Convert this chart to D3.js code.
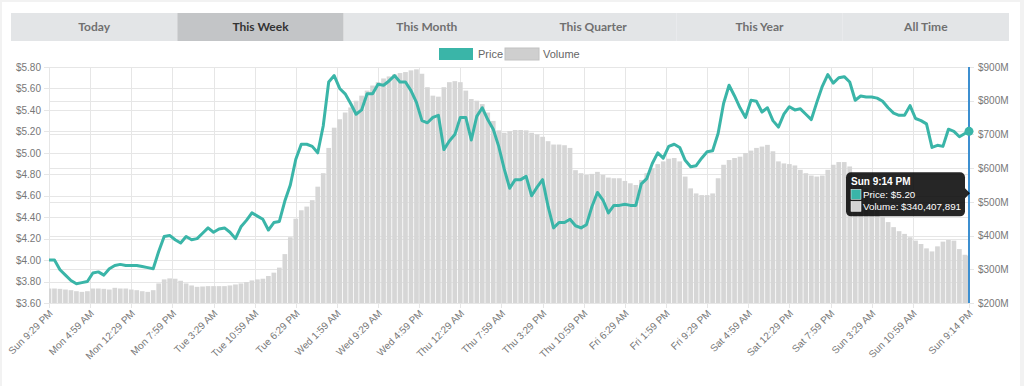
<!DOCTYPE html>
<html>
<head>
<meta charset="utf-8">
<script src="https://cdnjs.cloudflare.com/ajax/libs/d3/7.8.5/d3.min.js"></script>
<style>
  body { margin: 0; background: #f2f2f2; }
  #line { width: 1024px; height: 386px; }
  .tab { font-family: Lato, "Open Sans", sans-serif; font-size: 12px; font-weight: bold; }
  .axis text { font-family: "Liberation Sans", Arial, sans-serif; font-size: 10px; fill: #777; }
  .axis path { display: none; }
  .tip text { font-family: "Liberation Sans", Arial, sans-serif; fill: #fff; }
</style>
</head>
<body>
<div id="line"></div>
<script>
// data: hourly readings from Sun 9:29 PM, plus the last one at Sun 9:14 PM
var tabs = ["Today", "This Week", "This Month", "This Quarter", "This Year", "All Time"];
var activeTab = "This Week";

var tickLabels = ["Sun 9:29 PM", "Mon 4:59 AM", "Mon 12:29 PM", "Mon 7:59 PM", "Tue 3:29 AM",
  "Tue 10:59 AM", "Tue 6:29 PM", "Wed 1:59 AM", "Wed 9:29 AM", "Wed 4:59 PM", "Thu 12:29 AM",
  "Thu 7:59 AM", "Thu 3:29 PM", "Thu 10:59 PM", "Fri 6:29 AM", "Fri 1:59 PM", "Fri 9:29 PM",
  "Sat 4:59 AM", "Sat 12:29 PM", "Sat 7:59 PM", "Sun 3:29 AM", "Sun 10:59 AM", "Sun 9:14 PM"];

var priceTicks = [3.6, 3.8, 4.0, 4.2, 4.4, 4.6, 4.8, 5.0, 5.2, 5.4, 5.6, 5.8];
var volumeTicks = [200, 300, 400, 500, 600, 700, 800, 900];

// price in $
var price = [
  4.00, 4.00, 3.91, 3.86, 3.81, 3.78, 3.79, 3.80, 3.88, 3.89,
  3.86, 3.92, 3.95, 3.96, 3.95, 3.95, 3.95, 3.94, 3.93, 3.92,
  4.08, 4.22, 4.23, 4.19, 4.16, 4.22, 4.19, 4.20, 4.25, 4.30,
  4.26, 4.29, 4.30, 4.26, 4.20, 4.31, 4.37, 4.44, 4.41, 4.38,
  4.28, 4.35, 4.36, 4.55, 4.70, 4.94, 5.08, 5.08, 5.06, 5.00,
  5.25, 5.66, 5.72, 5.60, 5.55, 5.46, 5.36, 5.40, 5.55, 5.55,
  5.64, 5.63, 5.67, 5.72, 5.66, 5.66, 5.58, 5.47, 5.30, 5.28,
  5.33, 5.35, 5.03, 5.11, 5.17, 5.33, 5.33, 5.12, 5.34, 5.42,
  5.31, 5.22, 5.06, 4.85, 4.67, 4.75, 4.75, 4.78, 4.60, 4.68,
  4.75, 4.50, 4.30, 4.35, 4.35, 4.38, 4.32, 4.30, 4.33, 4.50,
  4.63, 4.56, 4.44, 4.51, 4.51, 4.52, 4.51, 4.51, 4.71, 4.76,
  4.90, 5.00, 4.95, 5.06, 5.08, 5.05, 4.93, 4.87, 4.88, 4.95,
  5.01, 5.02, 5.18, 5.46, 5.63, 5.53, 5.42, 5.33, 5.49, 5.48,
  5.38, 5.42, 5.30, 5.24, 5.36, 5.43, 5.40, 5.41, 5.36, 5.31,
  5.47, 5.62, 5.73, 5.65, 5.70, 5.71, 5.66, 5.49, 5.53, 5.52,
  5.52, 5.51, 5.48, 5.42, 5.37, 5.35, 5.35, 5.44, 5.32, 5.30,
  5.27, 5.05, 5.07, 5.06, 5.22, 5.20, 5.15, 5.18,
  5.20
];

// volume in $ millions
var volume = [
  243, 243, 242, 240, 238, 235, 233, 235, 243, 243,
  242, 240, 245, 243, 243, 240, 238, 235, 233, 238,
  258, 270, 273, 272, 266, 258, 252, 248, 249, 250,
  250, 250, 250, 252, 255, 258, 262, 267, 270, 272,
  280, 290, 305, 345, 395, 450, 475, 486, 505, 545,
  585, 660, 720, 745, 765, 780, 800, 815, 830, 845,
  855, 866, 872, 878, 882, 885, 890, 893, 880, 840,
  815, 812, 840, 855, 858, 855, 830, 805, 800, 790,
  765, 740, 712, 705, 710, 713, 713, 712, 705, 700,
  693, 680, 670, 670, 668, 660, 594, 585, 580, 583,
  589, 580, 572, 570, 570, 562, 555, 550, 565, 585,
  600, 612, 620, 628, 630, 620, 575, 540, 525, 520,
  520, 525, 570, 610, 624, 630, 634, 645, 652, 660,
  664, 669, 650, 620, 614, 612, 608, 595, 585, 578,
  575, 578, 595, 610, 618, 618, 605, 580, 560, 540,
  510, 480, 455, 440, 425, 413, 405, 395, 385, 375,
  362, 353, 368, 382, 387, 385, 360, 343,
  340.407891
];

var startTime = new Date(2018, 0, 7, 21, 29);
var endTime = new Date(2018, 0, 14, 21, 14);

var data = price.map(function(p, i) {
  return {
    date: i < price.length - 1 ? d3.timeHour.offset(startTime, i) : endTime,
    price: p,
    volume: volume[i]
  };
});
var last = data[data.length - 1];

// set the dimensions and margins of the graph
var margin = {top: 67, right: 55, bottom: 83, left: 49},
    width = 1024 - margin.left - margin.right,
    height = 386 - margin.top - margin.bottom;

var svg = d3.select("#line").append("svg")
  .attr("width", 1024)
  .attr("height", 386);

// page card
svg.append("rect")
  .attr("x", 2).attr("y", 2).attr("width", 1018).attr("height", 390)
  .attr("fill", "#fff");

// tab bar
var tabWidth = 998 / tabs.length;
var tabG = svg.append("g").attr("transform", "translate(11,13)");
tabG.selectAll("rect").data(tabs).enter().append("rect")
  .attr("x", (d, i) => i * tabWidth)
  .attr("width", tabWidth)
  .attr("height", 28)
  .attr("fill", d => d === activeTab ? "#c3c5c7" : "#e3e5e7");
tabG.selectAll("text").data(tabs).enter().append("text")
  .classed("tab", true)
  .attr("x", (d, i) => i * tabWidth + tabWidth / 2)
  .attr("y", 18)
  .attr("text-anchor", "middle")
  .attr("fill", d => d === activeTab ? "#333" : "#707070")
  .text(d => d);

// legend
var legend = svg.append("g").attr("transform", "translate(439,48)");
legend.append("rect").attr("width", 34).attr("height", 12).attr("fill", "#3ab5a8");
legend.append("text").attr("x", 39).attr("y", 10)
  .attr("font-family", "Liberation Sans, Arial, sans-serif").attr("font-size", 11).attr("fill", "#666")
  .text("Price");
legend.append("rect").attr("x", 66).attr("width", 34).attr("height", 12)
  .attr("fill", "#cfcfcf").attr("stroke", "#c2c2c2");
legend.append("text").attr("x", 104).attr("y", 10)
  .attr("font-family", "Liberation Sans, Arial, sans-serif").attr("font-size", 11).attr("fill", "#666")
  .text("Volume");

var chartGroup = svg.append("g")
  .attr("transform", `translate(${margin.left}, ${margin.top})`);

// scales
var xTimeScale = d3.scaleTime().domain([startTime, endTime]).range([0, width]);
var yPrice = d3.scaleLinear().domain([3.6, 5.8]).range([height, 0]);
var yVolume = d3.scaleLinear().domain([200, 900]).range([height, 0]);

var tickDates = tickLabels.map((l, k) =>
  k < tickLabels.length - 1 ? d3.timeMinute.offset(startTime, k * 450) : endTime);

// grid lines
var grid = chartGroup.append("g").attr("stroke", "#e6e6e6").attr("stroke-width", 1);
grid.selectAll(".gx").data(tickDates).enter().append("line")
  .attr("x1", d => Math.round(xTimeScale(d)) + 0.5).attr("x2", d => Math.round(xTimeScale(d)) + 0.5)
  .attr("y1", 0).attr("y2", height + 5);
grid.selectAll(".gp").data(priceTicks).enter().append("line")
  .attr("x1", -5).attr("x2", width)
  .attr("y1", d => Math.round(yPrice(d)) + 0.5).attr("y2", d => Math.round(yPrice(d)) + 0.5);
grid.selectAll(".gv").data(volumeTicks).enter().append("line")
  .attr("x1", 0).attr("x2", width + 5)
  .attr("y1", d => Math.round(yVolume(d)) + 0.5).attr("y2", d => Math.round(yVolume(d)) + 0.5);

// volume bars
var step = xTimeScale(d3.timeHour.offset(startTime, 1)) - xTimeScale(startTime);
chartGroup.append("clipPath").attr("id", "plot")
  .append("rect").attr("width", width).attr("height", height);
chartGroup.append("g").attr("clip-path", "url(#plot)")
  .selectAll("rect").data(data).enter().append("rect")
  .attr("x", d => xTimeScale(d.date) - step / 2 + 0.4)
  .attr("width", step - 0.8)
  .attr("y", d => yVolume(d.volume))
  .attr("height", d => height - yVolume(d.volume))
  .attr("fill", "#d6d6d6");

// price line
var line1 = d3.line()
  .x(d => xTimeScale(d.date))
  .y(d => yPrice(d.price));

chartGroup.append("path")
  .datum(data)
  .attr("d", line1)
  .attr("fill", "none")
  .attr("stroke", "#3ab5a8")
  .attr("stroke-width", 3)
  .attr("stroke-linejoin", "round");

// axes
var bottomAxis = d3.axisBottom(xTimeScale)
  .tickValues(tickDates)
  .tickSize(0)
  .tickFormat((d, i) => tickLabels[i]);
chartGroup.append("g")
  .classed("axis", true)
  .attr("transform", `translate(0, ${height})`)
  .call(bottomAxis)
  .selectAll("text")
  .attr("text-anchor", "end")
  .attr("dy", null)
  .attr("y", 0)
  .attr("transform", "translate(4,11) rotate(-45)");

chartGroup.append("g")
  .classed("axis", true)
  .call(d3.axisLeft(yPrice).tickValues(priceTicks).tickSize(0).tickPadding(8)
    .tickFormat(d => "$" + d.toFixed(2)));

chartGroup.append("g")
  .classed("axis", true)
  .attr("transform", `translate(${width}, 0)`)
  .call(d3.axisRight(yVolume).tickValues(volumeTicks).tickSize(0).tickPadding(9)
    .tickFormat(d => "$" + d + "M"));

// hover line, point and tooltip for the last reading
var lx = xTimeScale(last.date);
chartGroup.append("line")
  .attr("x1", lx).attr("x2", lx).attr("y1", 0).attr("y2", height)
  .attr("stroke", "#3d8fd0").attr("stroke-width", 2);
chartGroup.append("circle")
  .attr("cx", lx).attr("cy", yPrice(last.price)).attr("r", 4.5)
  .attr("fill", "#3ab5a8");

var tip = chartGroup.append("g").classed("tip", true)
  .attr("transform", `translate(${lx - 123}, ${yPrice(last.price) + 41})`);
tip.append("rect").attr("width", 119).attr("height", 44).attr("rx", 5)
  .attr("fill", "rgba(0,0,0,0.85)");
tip.append("path").attr("d", "M119,16 L124,21 L119,26 Z").attr("fill", "rgba(0,0,0,0.85)");
tip.append("text").attr("x", 5).attr("y", 13)
  .attr("font-size", 10).attr("font-weight", "bold")
  .text(d3.timeFormat("%a %-I:%M %p")(last.date));
tip.append("rect").attr("x", 5).attr("y", 17).attr("width", 10).attr("height", 10)
  .attr("fill", "#3ab5a8").attr("stroke", "#fff").attr("stroke-width", 0.5);
tip.append("text").attr("x", 17).attr("y", 26).attr("font-size", 9.8)
  .text("Price: " + d3.format("$.2f")(last.price));
tip.append("rect").attr("x", 5).attr("y", 29).attr("width", 10).attr("height", 10)
  .attr("fill", "#d4d4d4").attr("stroke", "#fff").attr("stroke-width", 0.5);
tip.append("text").attr("x", 17).attr("y", 38).attr("font-size", 9.8)
  .text("Volume: " + d3.format("$,.0f")(Math.round(last.volume * 1e6)));
</script>
</body>
</html>
